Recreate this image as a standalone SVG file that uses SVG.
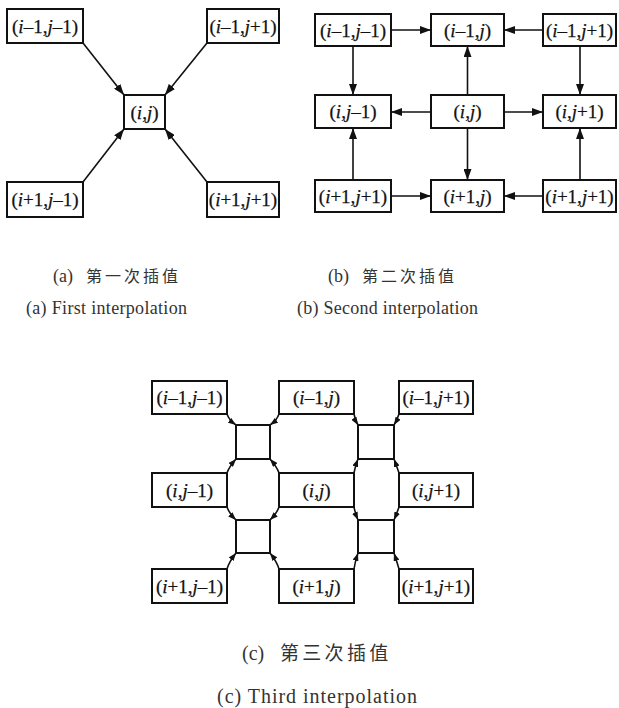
<svg xmlns="http://www.w3.org/2000/svg" width="619" height="708" viewBox="0 0 619 708">
<style>
.box{fill:#fff;stroke:#111;stroke-width:2}
.lbl{font-family:"Liberation Serif","Times New Roman",serif;font-size:19px;text-anchor:middle;fill:#111;stroke:#111;stroke-width:0.25}
.it{font-style:italic}
.con path,.con line{stroke:#111;stroke-width:1.6;fill:none}
.a1{marker-end:url(#ah)}
.a2{marker-end:url(#as)}
.cap{font-family:"Liberation Serif","Times New Roman",serif;fill:#333}
.cjk{font-family:"Noto Sans CJK SC","Noto Sans CJK JP",sans-serif;fill:#333}
</style>
<defs>
<marker id="ah" markerUnits="userSpaceOnUse" markerWidth="11" markerHeight="8" refX="11" refY="4" orient="auto"><path d="M0,0 L11,4 L0,8 z" fill="#111"/></marker>
<marker id="as" markerUnits="userSpaceOnUse" markerWidth="8" markerHeight="6" refX="8" refY="3" orient="auto"><path d="M0,0 L8,3 L0,6 z" fill="#111"/></marker>
</defs>
<rect width="619" height="708" fill="#fff"/>

<!-- Panel (a) connectors -->
<g id="conn-a" class="con">
<line class="a1" x1="83" y1="43" x2="124" y2="95"/>
<line class="a1" x1="207" y1="43" x2="165" y2="95"/>
<line class="a1" x1="83" y1="182" x2="124" y2="129"/>
<line class="a1" x1="207" y1="182" x2="165" y2="129"/>
</g>
<g id="a-tl"><rect class="box" x="7" y="9" width="76" height="34"/><text class="lbl" x="45" y="32.5">(<tspan class="it">i</tspan>–1,<tspan class="it">j</tspan>–1)</text></g>
<g id="a-tr"><rect class="box" x="207" y="9" width="72" height="34"/><text class="lbl" x="243" y="32.5">(<tspan class="it">i</tspan>–1,<tspan class="it">j</tspan>+1)</text></g>
<g id="a-c"><rect class="box" x="124" y="95" width="41" height="34"/><text class="lbl" x="144.5" y="118.5">(<tspan class="it">i</tspan>,<tspan class="it">j</tspan>)</text></g>
<g id="a-bl"><rect class="box" x="7" y="182" width="76" height="35"/><text class="lbl" x="45" y="206">(<tspan class="it">i</tspan>+1,<tspan class="it">j</tspan>–1)</text></g>
<g id="a-br"><rect class="box" x="207" y="182" width="72" height="35"/><text class="lbl" x="243" y="206">(<tspan class="it">i</tspan>+1,<tspan class="it">j</tspan>+1)</text></g>

<!-- Panel (b) connectors -->
<g id="conn-b" class="con">
<line class="a1" x1="391" y1="30" x2="431" y2="30"/>
<line class="a1" x1="543" y1="30" x2="504" y2="30"/>
<line class="a1" x1="353" y1="46" x2="353" y2="95"/>
<line class="a1" x1="467.5" y1="95" x2="467.5" y2="46"/>
<line class="a1" x1="580" y1="46" x2="580" y2="95"/>
<line class="a1" x1="431" y1="112" x2="391" y2="112"/>
<line class="a1" x1="504" y1="112" x2="543" y2="112"/>
<line class="a1" x1="353" y1="180" x2="353" y2="128"/>
<line class="a1" x1="467.5" y1="128" x2="467.5" y2="180"/>
<line class="a1" x1="580" y1="180" x2="580" y2="128"/>
<line class="a1" x1="391" y1="196" x2="431" y2="196"/>
<line class="a1" x1="543" y1="196" x2="504" y2="196"/>
</g>
<g id="b-11"><rect class="box" x="315" y="14" width="76" height="32"/><text class="lbl" x="353" y="36.5">(<tspan class="it">i</tspan>–1,<tspan class="it">j</tspan>–1)</text></g>
<g id="b-12"><rect class="box" x="431" y="14" width="73" height="32"/><text class="lbl" x="467.5" y="36.5">(<tspan class="it">i</tspan>–1,<tspan class="it">j</tspan>)</text></g>
<g id="b-13"><rect class="box" x="543" y="14" width="73" height="32"/><text class="lbl" x="579.5" y="36.5">(<tspan class="it">i</tspan>–1,<tspan class="it">j</tspan>+1)</text></g>
<g id="b-21"><rect class="box" x="315" y="95" width="76" height="33"/><text class="lbl" x="353" y="118">(<tspan class="it">i</tspan>,<tspan class="it">j</tspan>–1)</text></g>
<g id="b-22"><rect class="box" x="431" y="95" width="73" height="33"/><text class="lbl" x="467.5" y="118">(<tspan class="it">i</tspan>,<tspan class="it">j</tspan>)</text></g>
<g id="b-23"><rect class="box" x="543" y="95" width="73" height="33"/><text class="lbl" x="579.5" y="118">(<tspan class="it">i</tspan>,<tspan class="it">j</tspan>+1)</text></g>
<g id="b-31"><rect class="box" x="315" y="180" width="76" height="32"/><text class="lbl" x="353" y="202.5">(<tspan class="it">i</tspan>+1,<tspan class="it">j</tspan>+1)</text></g>
<g id="b-32"><rect class="box" x="431" y="180" width="73" height="32"/><text class="lbl" x="467.5" y="202.5">(<tspan class="it">i</tspan>+1,<tspan class="it">j</tspan>)</text></g>
<g id="b-33"><rect class="box" x="543" y="180" width="73" height="32"/><text class="lbl" x="579.5" y="202.5">(<tspan class="it">i</tspan>+1,<tspan class="it">j</tspan>+1)</text></g>

<!-- Panel (c) connectors -->
<g id="conn-c" class="con">
<path class="a2" d="M227,414 Q229,420 236,425"/>
<path class="a2" d="M279,414 Q277,420 270,425"/>
<path class="a2" d="M227,473 Q229,467 236,459"/>
<path class="a2" d="M279,473 Q277,467 270,459"/>
<path class="a2" d="M354,414 Q355,420 358,425"/>
<path class="a2" d="M399,414 Q397,420 394,425"/>
<path class="a2" d="M354,473 Q355,467 358,459"/>
<path class="a2" d="M399,473 Q397,467 394,459"/>
<path class="a2" d="M227,507 Q229,513 236,520"/>
<path class="a2" d="M279,507 Q277,513 270,520"/>
<path class="a2" d="M227,569 Q229,562 236,553"/>
<path class="a2" d="M279,569 Q277,562 270,553"/>
<path class="a2" d="M354,507 Q355,513 358,520"/>
<path class="a2" d="M399,507 Q397,513 394,520"/>
<path class="a2" d="M354,569 Q355,562 358,553"/>
<path class="a2" d="M399,569 Q397,562 394,553"/>
</g>
<g id="c-11"><rect class="box" x="152" y="381" width="75" height="33"/><text class="lbl" x="189.5" y="404">(<tspan class="it">i</tspan>–1,<tspan class="it">j</tspan>–1)</text></g>
<g id="c-12"><rect class="box" x="279" y="381" width="75" height="33"/><text class="lbl" x="316.5" y="404">(<tspan class="it">i</tspan>–1,<tspan class="it">j</tspan>)</text></g>
<g id="c-13"><rect class="box" x="399" y="381" width="74" height="33"/><text class="lbl" x="436" y="404">(<tspan class="it">i</tspan>–1,<tspan class="it">j</tspan>+1)</text></g>
<g id="c-21"><rect class="box" x="152" y="473" width="75" height="34"/><text class="lbl" x="189.5" y="496.5">(<tspan class="it">i</tspan>,<tspan class="it">j</tspan>–1)</text></g>
<g id="c-22"><rect class="box" x="279" y="473" width="75" height="34"/><text class="lbl" x="316.5" y="496.5">(<tspan class="it">i</tspan>,<tspan class="it">j</tspan>)</text></g>
<g id="c-23"><rect class="box" x="399" y="473" width="74" height="34"/><text class="lbl" x="436" y="496.5">(<tspan class="it">i</tspan>,<tspan class="it">j</tspan>+1)</text></g>
<g id="c-31"><rect class="box" x="152" y="569" width="75" height="34"/><text class="lbl" x="189.5" y="592.5">(<tspan class="it">i</tspan>+1,<tspan class="it">j</tspan>–1)</text></g>
<g id="c-32"><rect class="box" x="279" y="569" width="75" height="34"/><text class="lbl" x="316.5" y="592.5">(<tspan class="it">i</tspan>+1,<tspan class="it">j</tspan>)</text></g>
<g id="c-33"><rect class="box" x="399" y="569" width="74" height="34"/><text class="lbl" x="436" y="592.5">(<tspan class="it">i</tspan>+1,<tspan class="it">j</tspan>+1)</text></g>
<g id="c-s1"><rect class="box" x="236" y="425" width="34" height="34"/></g>
<g id="c-s2"><rect class="box" x="358" y="425" width="36" height="34"/></g>
<g id="c-s3"><rect class="box" x="236" y="520" width="34" height="33"/></g>
<g id="c-s4"><rect class="box" x="358" y="520" width="36" height="33"/></g>

<!-- Captions -->
<g id="captions">
<text class="cap" x="53" y="282" font-size="18">(a)</text>
<text class="cjk" x="86" y="282" font-size="16" letter-spacing="3">第一次插值</text>
<text class="cap" x="26" y="314" font-size="18" textLength="161" lengthAdjust="spacing">(a) First interpolation</text>
<text class="cap" x="328" y="282" font-size="18">(b)</text>
<text class="cjk" x="362" y="282" font-size="16" letter-spacing="3">第二次插值</text>
<text class="cap" x="297" y="314" font-size="18" textLength="181" lengthAdjust="spacing">(b) Second interpolation</text>
<text class="cap" x="242" y="660" font-size="20">(c)</text>
<text class="cjk" x="280" y="660" font-size="19" letter-spacing="3.3">第三次插值</text>
<text class="cap" x="217" y="703" font-size="20" textLength="200" lengthAdjust="spacing">(c) Third interpolation</text>
</g>
</svg>
